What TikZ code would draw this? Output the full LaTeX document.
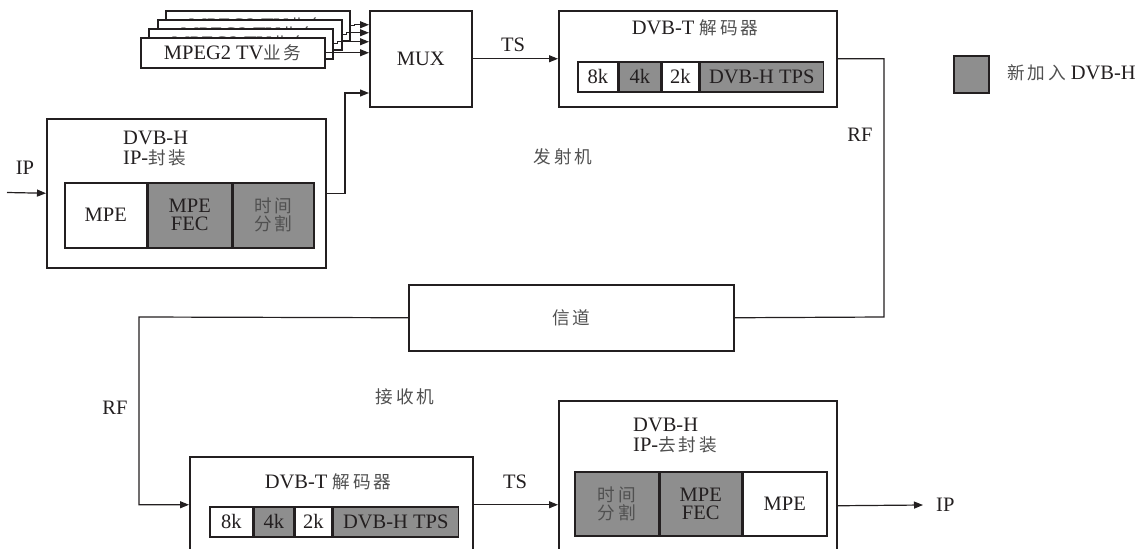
\documentclass[tikz,border=0pt]{standalone}
\usepackage{fontspec}
\setmainfont{Liberation Serif}
\newfontfamily\cjk[Scale=0.86,LetterSpace=16]{Noto Sans CJK SC}
\usetikzlibrary{arrows.meta}
\definecolor{ink}{RGB}{35,31,32}
\definecolor{dvbh}{RGB}{142,142,142}
\definecolor{hanzi}{RGB}{80,80,80}
\newcommand\lblfont{\fontsize{20.5}{22}\selectfont}
\newcommand\hz[1]{{\cjk\color{hanzi}#1}}
\tikzset{
  blk/.style={draw=ink, line width=1.5pt, fill=white, inner sep=0pt, anchor=north west, font=\lblfont, text=ink},
  cell/.style={draw=ink, line width=1.5pt, fill=white, inner sep=0pt, anchor=north west, font=\lblfont, text=ink, align=center},
  newcell/.style={cell, fill=dvbh},
  wire/.style={draw=ink, line width=1.2pt},
  arr/.style={wire, -{Triangle[length=9pt,width=7pt]}},
  lbl/.style={inner sep=0pt, font=\lblfont, text=ink},
}
\begin{document}
\begin{tikzpicture}[x=1pt,y=1pt]
\useasboundingbox (0,0) rectangle (1141,-549);
\clip (0,0) rectangle (1141,-549);
% transmitter side
\foreach \i/\x/\y in {3/165/10,2/157/19,1/148/28,0/140/37}
  \node[blk, minimum width=184pt, minimum height=30pt] (tv\i) at (\x,-\y) {MPEG2 TV\hz{业务}};
\node[blk, minimum width=102pt, minimum height=96pt] (mux) at (369,-10) {MUX};
\draw[arr] (tv0.east) -- (tv0.east -| mux.west);
\draw[arr] (tv1.east) -- ++(4,0) |- ([yshift=17pt]mux.west);
\draw[arr] (tv2.east) -- ++(4,0) |- ([yshift=26pt]mux.west);
\draw[arr] (tv3.east) -- ++(4,0) |- ([yshift=34pt]mux.west);

\node[blk, minimum width=279pt, minimum height=149pt] (txh) at (46,-118) {};
\node[lbl, align=left, anchor=west] (txhtitle) at (123,-149) {DVB-H\\[-2pt]IP-\hz{封装}};
\node[cell, minimum width=82pt, minimum height=65pt] (txmpe) at (64,-182) {MPE};
\node[newcell, minimum width=83pt, minimum height=65pt] (txfec) at (txmpe.north east) {MPE\\[-4pt]FEC};
\node[newcell, minimum width=81pt, minimum height=65pt] (txslice) at (txfec.north east) {\hz{时间}\\[-4pt]\hz{分割}};
\coordinate (ipin) at (7,-192.5);
\node[lbl] (iplabel) at (25,-168) {IP};
\draw[arr] (ipin) -- (txh.west);
\coordinate (muxin) at (345,-93);
\draw[arr] (txh.east) -| (muxin) -- (muxin -| mux.west);

\node[blk, minimum width=278pt, minimum height=96pt] (txt) at (558,-10) {};
\node[lbl] (txttitle) at (695,-28) {DVB-T \hz{解码器}};
\node[cell, minimum width=40pt, minimum height=30pt] (tx8k) at (577,-61) {8k};
\node[newcell, minimum width=41pt, minimum height=30pt] (tx4k) at (tx8k.north east) {4k};
\node[cell, minimum width=37pt, minimum height=30pt] (tx2k) at (tx4k.north east) {2k};
\node[newcell, minimum width=123pt, minimum height=30pt] (txtps) at (tx2k.north east) {DVB-H TPS};
\draw[arr] (mux.east) -- (mux.east -| txt.west);
\node[lbl] (tslabel) at (513,-45) {TS};
\node[lbl] (txlabel) at (563,-157) {\hz{发射机}};

% channel
\node[blk, minimum width=325pt, minimum height=66pt] (chan) at (408,-284) {\hz{信道}};
\coordinate (rfup) at (884,-317);
\draw[wire] (txt.east) -| (rfup) -- (chan.east);
\node[lbl] (rflabel) at (860,-135) {RF};

% receiver side
\node[blk, minimum width=283pt, minimum height=96pt] (rxt) at (189,-456) {};
\node[lbl] (rxttitle) at (328,-482) {DVB-T \hz{解码器}};
\node[cell, minimum width=43pt, minimum height=30pt] (rx8k) at (209,-506) {8k};
\node[newcell, minimum width=39pt, minimum height=30pt] (rx4k) at (rx8k.north east) {4k};
\node[cell, minimum width=37pt, minimum height=30pt] (rx2k) at (rx4k.north east) {2k};
\node[newcell, minimum width=125pt, minimum height=30pt] (rxtps) at (rx2k.north east) {DVB-H TPS};
\coordinate (rfdn) at (139,-317);
\draw[arr] (chan.west) -- (rfdn) |- (rxt.west);
\node[lbl] (rflabel2) at (115,-408) {RF};
\node[lbl] (rxlabel) at (405,-397) {\hz{接收机}};

\node[blk, minimum width=278pt, minimum height=210pt] (rxh) at (558,-400) {};
\node[lbl, align=left, anchor=west] (rxhtitle) at (633,-436) {DVB-H\\[-2pt]IP-\hz{去封装}};
\node[newcell, minimum width=84pt, minimum height=64pt] (rxslice) at (574,-471) {\hz{时间}\\[-4pt]\hz{分割}};
\node[newcell, minimum width=81pt, minimum height=64pt] (rxfec) at (rxslice.north east) {MPE\\[-4pt]FEC};
\node[cell, minimum width=84pt, minimum height=64pt] (rxmpe) at (rxfec.north east) {MPE};
\draw[arr] (rxt.east) -- (rxt.east -| rxh.west);
\node[lbl] (tslabel2) at (515,-482) {TS};
\coordinate (ipout) at (923,-505);
\draw[arr] (rxh.east) -- (ipout);
\node[lbl, anchor=west] (iplabel2) at (936,-505) {IP};

% legend
\node[newcell, minimum width=35pt, minimum height=37pt] (legbox) at (953,-55) {};
\node[lbl, anchor=west] (legtext) at (1007,-73) {\hz{新加入} DVB-H};
\end{tikzpicture}
\end{document}
